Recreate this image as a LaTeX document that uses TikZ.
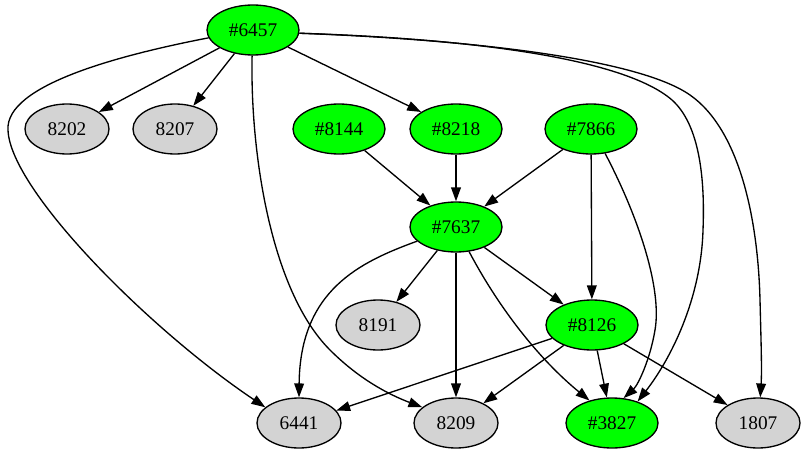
\documentclass[tikz,border=0pt]{standalone}
\usepackage{fontspec}
\setmainfont{Liberation Serif}
\usetikzlibrary{shapes.geometric,arrows.meta}
\definecolor{gvgreen}{HTML}{00FF00}
\definecolor{gvgray}{HTML}{D3D3D3}
\begin{document}
\begin{tikzpicture}[x=0.75pt,y=-0.75pt,
  gv/.style={ellipse,draw,line width=1pt,inner sep=0pt,minimum height=37.5pt,font=\fontsize{14.5}{16}\selectfont},
  gn/.style={gv,fill=gvgreen,minimum width=69pt},
  gy/.style={gv,fill=gvgray,minimum width=63pt},
  link/.style={draw,line width=1pt,-{Triangle[length=10.4pt,width=7.3pt]}}]
\useasboundingbox (0,0) rectangle (805,456);
% nodes
\node[gn] (n6457) at (253,30) {\#6457};
\node[gy] (n8202) at (67,129) {8202};
\node[gy] (n8207) at (175,129) {8207};
\node[gn] (n8144) at (339,129) {\#8144};
\node[gn] (n8218) at (456,129) {\#8218};
\node[gn] (n7866) at (591,129) {\#7866};
\node[gn] (n7637) at (456,227) {\#7637};
\node[gy] (n8191) at (378,325) {8191};
\node[gn] (n8126) at (592,325) {\#8126};
\node[gy] (n6441) at (299,423) {6441};
\node[gy] (n8209) at (456,423) {8209};
\node[gn] (n3827) at (612,423) {\#3827};
\node[gy] (n1807) at (758,423) {1807};
% straight edges
\draw[link] (n6457) -- (n8202);
\draw[link] (n6457) -- (n8207);
\draw[link] (n6457) -- (n8218);
\draw[link] (n8144) -- (n7637);
\draw[link] (n8218) -- (n7637);
\draw[link] (n7866) -- (n7637);
\draw[link] (n7866) -- (n8126);
\draw[link] (n7637) -- (n8191);
\draw[link] (n7637) -- (n8126);
\draw[link] (n7637) -- (n8209);
\draw[link] (n8126) -- (n6441);
\draw[link] (n8126) -- (n8209);
\draw[link] (n8126) -- (n3827);
\draw[link] (n8126) -- (n1807);
% curved edges
\draw[link] (n6457.190) .. controls (120,55) and (5,85) .. (8,130)
  .. controls (10,190) and (150,330) .. (n6441.155);
\draw[link] (n6457.268) .. controls (250,150) and (270,290) .. (330,350)
  .. controls (360,380) and (390,395) .. (n8209.155);
\draw[link] (n6457.356) .. controls (450,38) and (620,55) .. (672,100)
  .. controls (700,125) and (705,180) .. (703,230)
  .. controls (701,300) and (670,360) .. (n3827.40);
\draw[link] (n6457.356) .. controls (480,40) and (640,60) .. (690,95)
  .. controls (740,130) and (758,220) .. (760,300)
  .. controls (761,340) and (762,370) .. (n1807.85);
\draw[link] (n7866.300) .. controls (640,220) and (662,290) .. (655,330)
  .. controls (650,360) and (638,385) .. (n3827.65);
\draw[link] (n7637.200) .. controls (360,262) and (300,290) .. (n6441.north);
\draw[link] (n7637.298) .. controls (500,310) and (540,360) .. (n3827.135);
\end{tikzpicture}
\end{document}
